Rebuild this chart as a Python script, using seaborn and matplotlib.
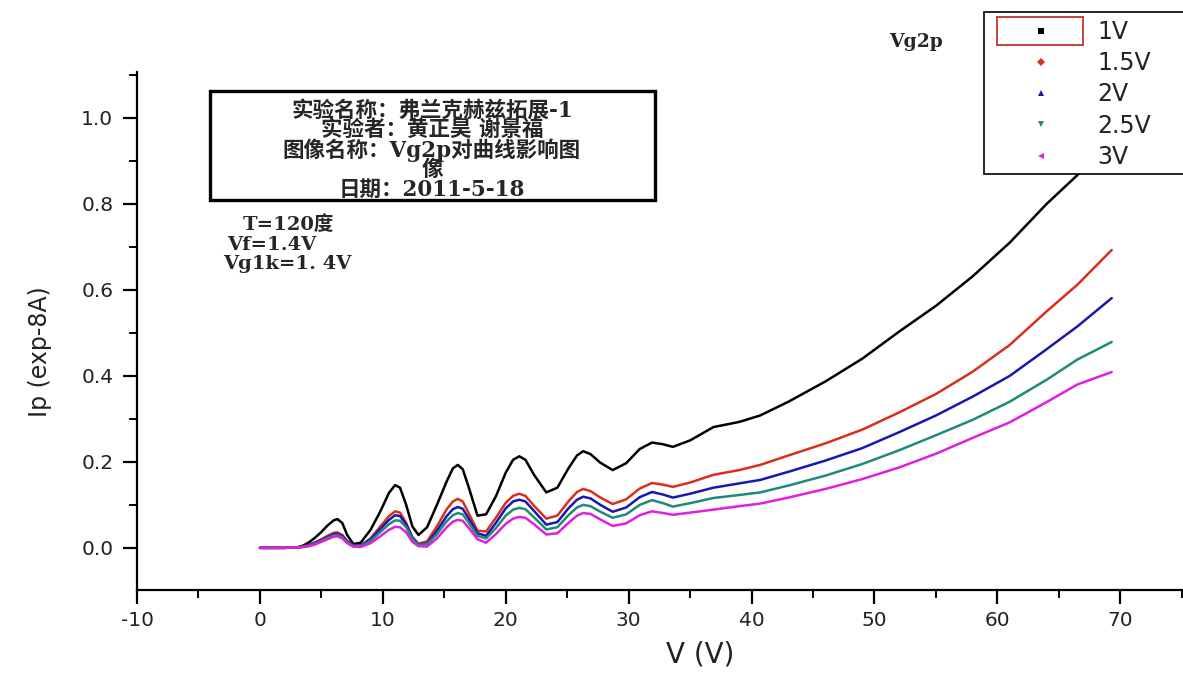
import numpy as np
import pandas as pd
import matplotlib
matplotlib.use("Agg")
import matplotlib.pyplot as plt
import seaborn as sns
from matplotlib.lines import Line2D
from matplotlib.patches import Rectangle
from matplotlib.ticker import MultipleLocator

# Accelerating voltage V (V)
voltage = [0, 1, 2, 3, 3.5, 4, 4.5, 5, 5.5, 6, 6.3, 6.7, 7.1, 7.6, 8.2, 9, 9.8,
           10.5, 11, 11.4, 11.9, 12.4, 12.9, 13.6, 14.4, 15.2, 15.7, 16.1, 16.5,
           17, 17.7, 18.4, 19.2, 20.0, 20.6, 21.1, 21.6, 22.3, 23.3, 24.2, 25.1,
           25.8, 26.3, 26.9, 27.7, 28.7, 29.8, 30.9, 31.9, 32.8, 33.6, 35, 36.9,
           39, 40.7, 43, 46, 49, 52, 55, 58, 61, 64, 66.5, 69.3]

# Plate current Ip (1e-8 A) for each Vg2p setting
ip_1v = [0, 0, 0, 0.001, 0.005, 0.013, 0.024, 0.037, 0.052, 0.064, 0.067, 0.058,
         0.030, 0.009, 0.012, 0.042, 0.085, 0.128, 0.146, 0.140, 0.100, 0.050,
         0.030, 0.048, 0.100, 0.155, 0.185, 0.193, 0.183, 0.140, 0.075, 0.078,
         0.120, 0.175, 0.205, 0.213, 0.205, 0.170, 0.129, 0.140, 0.185, 0.215,
         0.225, 0.218, 0.198, 0.181, 0.197, 0.230, 0.245, 0.241, 0.235, 0.250,
         0.281, 0.293, 0.308, 0.340, 0.387, 0.440, 0.503, 0.563, 0.632, 0.710,
         0.800, 0.867, 0.950]
ip_1_5v = [0, 0, 0, 0.001, 0.003, 0.007, 0.013, 0.020, 0.028, 0.035, 0.036, 0.030,
           0.016, 0.005, 0.005, 0.022, 0.050, 0.074, 0.085, 0.082, 0.058, 0.025,
           0.010, 0.015, 0.050, 0.090, 0.108, 0.114, 0.108, 0.080, 0.040, 0.038,
           0.070, 0.105, 0.121, 0.126, 0.121, 0.098, 0.068, 0.075, 0.108, 0.130,
           0.137, 0.132, 0.117, 0.102, 0.113, 0.138, 0.151, 0.147, 0.142, 0.152,
           0.170, 0.181, 0.193, 0.215, 0.243, 0.275, 0.315, 0.358, 0.410, 0.472,
           0.550, 0.612, 0.693]
ip_2v = [0, 0, 0, 0.001, 0.003, 0.006, 0.012, 0.018, 0.025, 0.032, 0.033, 0.028,
         0.015, 0.005, 0.005, 0.020, 0.044, 0.065, 0.076, 0.074, 0.055, 0.024,
         0.008, 0.010, 0.040, 0.074, 0.090, 0.095, 0.091, 0.068, 0.034, 0.028,
         0.058, 0.092, 0.108, 0.112, 0.108, 0.086, 0.054, 0.060, 0.092, 0.112,
         0.119, 0.115, 0.100, 0.084, 0.094, 0.118, 0.130, 0.124, 0.117, 0.126,
         0.140, 0.150, 0.158, 0.177, 0.203, 0.232, 0.269, 0.308, 0.352, 0.400,
         0.462, 0.515, 0.581]
ip_2_5v = [0, 0, 0, 0.001, 0.002, 0.005, 0.010, 0.016, 0.023, 0.029, 0.030, 0.025,
           0.013, 0.004, 0.004, 0.016, 0.037, 0.055, 0.064, 0.063, 0.048, 0.021,
           0.007, 0.008, 0.032, 0.062, 0.076, 0.081, 0.078, 0.058, 0.028, 0.022,
           0.046, 0.075, 0.089, 0.093, 0.090, 0.071, 0.043, 0.048, 0.076, 0.094,
           0.100, 0.097, 0.084, 0.070, 0.078, 0.100, 0.111, 0.104, 0.096, 0.104,
           0.116, 0.123, 0.129, 0.145, 0.168, 0.195, 0.227, 0.262, 0.298, 0.340,
           0.391, 0.438, 0.479]
ip_3v = [0, 0, 0, 0.001, 0.002, 0.004, 0.008, 0.014, 0.020, 0.026, 0.027, 0.022,
         0.011, 0.003, 0.002, 0.011, 0.027, 0.042, 0.049, 0.048, 0.036, 0.014,
         0.004, 0.003, 0.022, 0.048, 0.061, 0.065, 0.063, 0.046, 0.020, 0.012,
         0.032, 0.056, 0.068, 0.072, 0.070, 0.055, 0.031, 0.034, 0.058, 0.075,
         0.081, 0.079, 0.066, 0.051, 0.057, 0.076, 0.085, 0.081, 0.077, 0.082,
         0.089, 0.097, 0.103, 0.117, 0.137, 0.160, 0.187, 0.219, 0.256, 0.292,
         0.339, 0.380, 0.409]

series_labels = ["1V", "1.5V", "2V", "2.5V", "3V"]
x_ticks = [-10, 0, 10, 20, 30, 40, 50, 60, 70]
y_ticks = [0.0, 0.2, 0.4, 0.6, 0.8, 1.0]

colors = ["#000000", "#d8301c", "#1818b0", "#1f8a78", "#e020e0"]
markers = ["s", "D", "^", "v", "<"]

df = pd.DataFrame({
    "V": voltage * 5,
    "Ip": ip_1v + ip_1_5v + ip_2v + ip_2_5v + ip_3v,
    "Vg2p": np.repeat(series_labels, len(voltage)),
})

sns.set_style("ticks")
plt.rcParams["font.family"] = ["DejaVu Sans", "Noto Sans CJK SC"]

W, H = 1183, 675
fig = plt.figure(figsize=(W / 100, H / 100), dpi=100)


def fx(px):
    return px / W


def fy(py):
    return 1 - py / H


ax = fig.add_axes([fx(137), fy(590), fx(W - 137), (590 - 72) / H])

sns.lineplot(data=df, x="V", y="Ip", hue="Vg2p", hue_order=series_labels,
             palette=dict(zip(series_labels, colors)), estimator=None,
             sort=False, linewidth=1.8, legend=False, ax=ax)

ax.set_xlim(-10, 75.1)
ax.set_ylim(-0.098, 1.107)
sns.despine(ax=ax)
for side in ("left", "bottom"):
    ax.spines[side].set_linewidth(1.6)
    ax.spines[side].set_color("black")

ax.set_xticks(x_ticks)
ax.set_xticklabels([str(t) for t in x_ticks], fontfamily="DejaVu Sans",
                   fontsize=14.5, color="#222222")
ax.set_yticks(y_ticks)
ax.set_yticklabels([f"{t:.1f}" for t in y_ticks], fontfamily="DejaVu Sans",
                   fontsize=14.5, color="#222222")
ax.xaxis.set_minor_locator(MultipleLocator(5))
ax.yaxis.set_minor_locator(MultipleLocator(0.1))
ax.tick_params(which="major", direction="out", length=10, width=1.6, color="black")
ax.tick_params(which="minor", direction="out", length=5.5, width=1.4, color="black")
ax.tick_params(axis="y", which="major", pad=7)
ax.tick_params(axis="x", which="major", pad=5)

ax.set_xlabel("V (V)", fontfamily="DejaVu Sans", fontsize=20, color="#222222")
ax.set_ylabel("Ip (exp-8A)", fontfamily="DejaVu Sans", fontsize=17, color="#222222")
ax.xaxis.set_label_coords((700 - 137) / 1046, (590 - 655) / 518)
ax.xaxis.label.set_verticalalignment("center")
ax.yaxis.set_label_coords((40 - 137) / 1046, (590 - 352) / 518)
ax.yaxis.label.set_verticalalignment("center")

# Experiment information box
fig.add_artist(Rectangle((fx(210), fy(200)), fx(655 - 210), (200 - 91) / H,
                         transform=fig.transFigure, fill=False,
                         edgecolor="black", linewidth=2.4, zorder=3))
info_family = ["DejaVu Serif", "Noto Sans CJK SC"]
info_text = "\n".join(["实验名称：弗兰克赫兹拓展-1",
                       "实验者：黄正昊 谢景福",
                       "图像名称：Vg2p对曲线影响图",
                       "像",
                       "日期：2011-5-18"])
fig.text(fx(432), fy(150), info_text, ha="center", va="center",
         multialignment="center", linespacing=0.85, fontsize=15.5,
         fontweight="bold", family=info_family)

cond_lines = [("T=120度", 288, 225), ("Vf=1.4V", 272, 245), ("Vg1k=1. 4V", 287, 264)]
for text, px, py in cond_lines:
    fig.text(fx(px), fy(py), text, ha="center", va="center", fontsize=14,
             fontweight="bold", family=info_family)

fig.text(fx(916), fy(42), "Vg2p", ha="center", va="center", fontsize=13.5,
         fontweight="bold", family=["DejaVu Serif"])

# Legend panel
fig.add_artist(Rectangle((fx(984), fy(174)), fx(1192 - 984), (174 - 12) / H,
                         transform=fig.transFigure, facecolor="white",
                         edgecolor="black", linewidth=1.2, zorder=4))
handles = [Line2D([], [], linestyle="none", marker=m, markersize=4.5,
                  color=c, markeredgewidth=0) for m, c in zip(markers, colors)]
leg = fig.legend(handles, series_labels, loc="upper left",
                 bbox_to_anchor=(fx(984), fy(12)), bbox_transform=fig.transFigure,
                 frameon=False, borderaxespad=0, borderpad=0.33,
                 handlelength=4.2, handletextpad=0.27, labelspacing=0.31,
                 prop={"family": "DejaVu Sans", "size": 17})
leg.set_zorder(5)
for t in leg.get_texts():
    t.set_color("#222222")

fig.add_artist(Rectangle((fx(997), fy(45)), fx(1083 - 997), (45 - 17) / H,
                         transform=fig.transFigure, fill=False,
                         edgecolor="#c03030", linewidth=1.3, zorder=10))

fig.savefig("out.png", dpi=100, facecolor="white")
